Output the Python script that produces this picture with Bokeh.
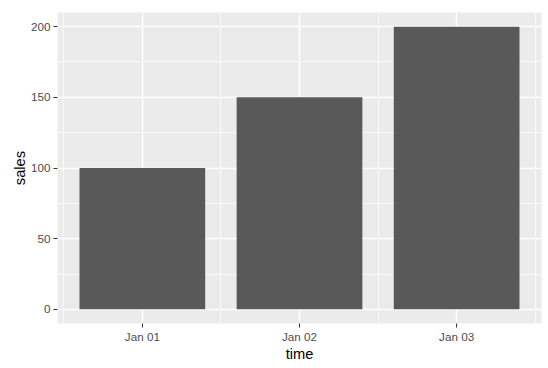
import pandas as pd
from bokeh.plotting import figure
from bokeh.models import Range1d, FixedTicker, DatetimeTickFormatter, ColumnDataSource
from bokeh.embed import file_html
from bokeh.resources import INLINE

# data
dates = ["2023-01-01", "2023-01-02", "2023-01-03"]
sales = [100, 150, 200]
y_ticks = [0, 50, 100, 150, 200]
y_minor = [25, 75, 125, 175]

DAY = 86400000.0
x = pd.to_datetime(dates)
xms = [t.value / 1e6 for t in x]
bar_w = 0.8 * DAY
lo = min(xms) - bar_w / 2
hi = max(xms) + bar_w / 2
pad = 0.05 * (hi - lo)

src = ColumnDataSource(dict(x=x, sales=sales))

p = figure(width=548, height=368, x_axis_type="datetime",
           output_backend="svg", toolbar_location=None,
           x_range=Range1d(lo - pad, hi + pad),
           y_range=Range1d(-0.05 * max(sales), 1.05 * max(sales)),
           min_border_left=57, min_border_right=7,
           min_border_top=12, min_border_bottom=45)

p.vbar(x="x", top="sales", width=bar_w, bottom=0, source=src,
       fill_color="#595959", line_color=None)

p.background_fill_color = "#EBEBEB"
p.border_fill_color = "white"
p.outline_line_color = None

xt = FixedTicker(ticks=xms, minor_ticks=[v - DAY / 2 for v in xms] + [xms[-1] + DAY / 2])
p.xaxis.ticker = xt
p.xaxis.formatter = DatetimeTickFormatter(days="%b %d", months="%b %d", hours="%b %d")
p.yaxis.ticker = FixedTicker(ticks=y_ticks, minor_ticks=y_minor)

for ax in (p.xaxis[0], p.yaxis[0]):
    ax.axis_line_color = None
    ax.major_tick_in = 0
    ax.major_tick_out = 4
    ax.major_tick_line_color = "#333333"
    ax.major_tick_line_width = 1
    ax.minor_tick_line_color = None
    ax.major_label_text_font = "Liberation Sans"
    ax.major_label_text_font_size = "11.7px"
    ax.major_label_text_color = "#4D4D4D"
    ax.axis_label_text_font = "Liberation Sans"
    ax.axis_label_text_font_size = "14.7px"
    ax.axis_label_text_font_style = "normal"
    ax.axis_label_text_color = "black"

p.xaxis.axis_label = "time"
p.yaxis.axis_label = "sales"
p.xaxis.major_label_standoff = 2
p.yaxis.major_label_standoff = 3
p.xaxis.axis_label_standoff = 0
p.yaxis.axis_label_standoff = 0

for g in (p.xgrid[0], p.ygrid[0]):
    g.grid_line_color = "white"
    g.grid_line_width = 1.4
    g.minor_grid_line_color = "white"
    g.minor_grid_line_width = 0.7

open("out.html", "w").write(file_html(p, INLINE))
